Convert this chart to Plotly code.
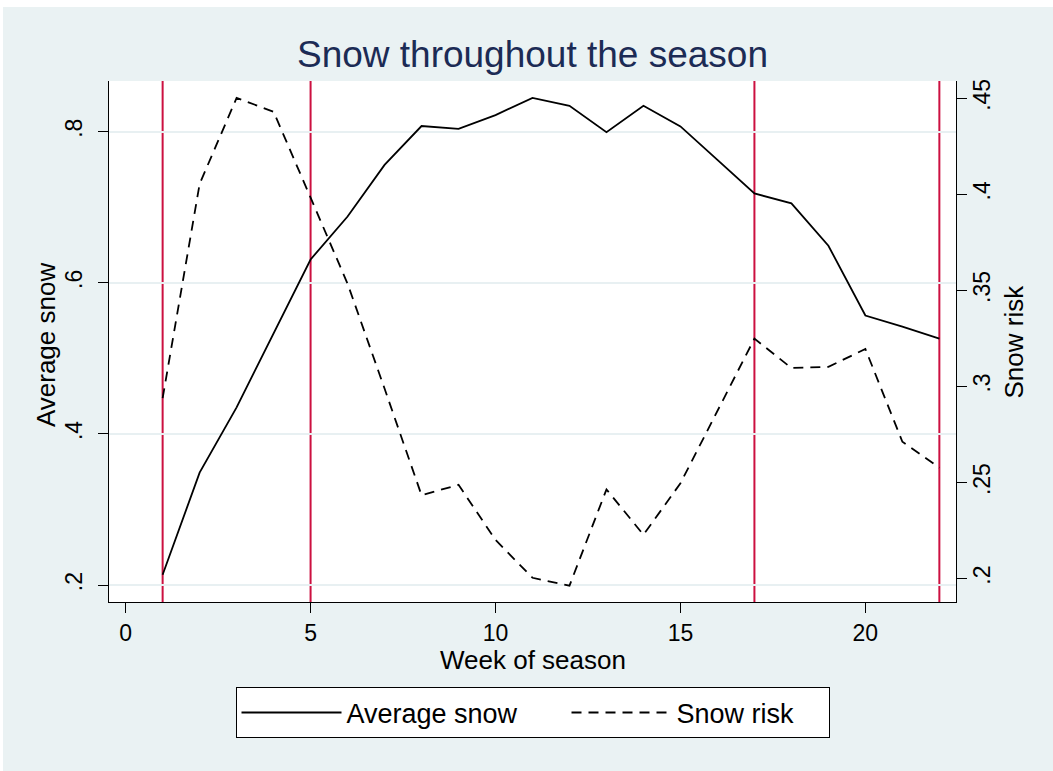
import plotly.graph_objects as go

# ---- data ----
weeks = list(range(1, 23))
average_snow = [0.2135, 0.3487, 0.4351, 0.5330, 0.6308, 0.6877, 0.7560, 0.8074,
                0.8037, 0.8219, 0.8447, 0.8342, 0.7992, 0.8342, 0.8069, 0.7627,
                0.7182, 0.7050, 0.6490, 0.5566, 0.5420, 0.5262]
snow_risk = [0.2939, 0.4054, 0.4502, 0.4430, 0.3983, 0.3535, 0.2989, 0.2434,
             0.2488, 0.2201, 0.2004, 0.1963, 0.2464, 0.2228, 0.2496, 0.2874,
             0.3249, 0.3096, 0.3102, 0.3195, 0.2712, 0.2577]
marked_weeks = [1, 5, 17, 22]

x_ticks = [0, 5, 10, 15, 20]
left_ticks = [0.2, 0.4, 0.6, 0.8]
left_labels = [".2", ".4", ".6", ".8"]
right_ticks = [0.2, 0.25, 0.3, 0.35, 0.4, 0.45]
right_labels = [".2", ".25", ".3", ".35", ".4", ".45"]

title_text = "Snow throughout the season"
x_title = "Week of season"
left_title = "Average snow"
right_title = "Snow risk"

# ---- style ----
FONT = "Liberation Sans, Arial, Helvetica, sans-serif"
BG = "#EAF2F3"
GRID = "#E8F0F2"
RED = "#CC1040"
NAVY = "#1C2B55"

fig = go.Figure()
fig.add_trace(go.Scatter(x=weeks, y=average_snow, mode="lines", name=left_title,
                         line=dict(color="black", width=1.8), yaxis="y",
                         legendwidth=215))
fig.add_trace(go.Scatter(x=weeks, y=snow_risk, mode="lines", name=right_title,
                         line=dict(color="black", width=1.8, dash="10px,7px"), yaxis="y2",
                         legendwidth=147))

for w in marked_weeks:
    fig.add_shape(type="line", xref="x", yref="paper", x0=w, x1=w, y0=0, y1=1,
                  line=dict(color=RED, width=2), layer="between")

axis_font = dict(family=FONT, size=23, color="black")

fig.update_layout(
    width=1050, height=764,
    margin=dict(l=106, r=97, t=74, b=168.5, pad=0),
    paper_bgcolor=BG, plot_bgcolor="white",
    font=dict(family=FONT, color="black"),
    title=dict(text=title_text, x=0.5, xref="paper", xanchor="center",
               y=0.9385, yref="container", yanchor="middle",
               font=dict(family=FONT, size=37, color=NAVY)),
    xaxis=dict(range=[-0.45, 22.45], tickvals=x_ticks, ticks="outside", ticklen=10,
               tickwidth=1.2, tickcolor="black", showline=True, linecolor="black",
               linewidth=1.2, showgrid=False, zeroline=False, tickfont=axis_font),
    yaxis=dict(range=[0.1775, 0.867], tickvals=left_ticks, ticktext=left_labels,
               tickangle=-90, ticks="outside", ticklen=10, tickwidth=1.2,
               tickcolor="black", showline=True, linecolor="black", linewidth=1.2,
               showgrid=True, gridcolor=GRID, gridwidth=2, zeroline=False,
               tickfont=axis_font, ticklabelstandoff=7),
    yaxis2=dict(range=[0.1878, 0.459], tickvals=right_ticks, ticktext=right_labels,
                tickangle=-90, overlaying="y", side="right", ticks="outside",
                ticklen=10, tickwidth=1.2, tickcolor="black", showline=True,
                linecolor="black", linewidth=1.2, showgrid=False, zeroline=False,
                tickfont=axis_font, ticklabelstandoff=-5),
    showlegend=True,
    legend=dict(orientation="h", x=0.5, xanchor="center", y=-0.164, yanchor="top",
                xref="paper", yref="paper",
                bgcolor="white", bordercolor="black", borderwidth=1,
                itemwidth=100, entrywidthmode="pixels",
                font=dict(family=FONT, size=27, color="black")),
    annotations=[
        dict(text=x_title, xref="paper", yref="paper", x=0.5, y=-0.112,
             xanchor="center", yanchor="middle", showarrow=False,
             font=dict(family=FONT, size=26, color="black")),
        dict(text=left_title, xref="paper", yref="paper", x=-0.0744, y=0.495,
             xanchor="center", yanchor="middle", textangle=-90, showarrow=False,
             font=dict(family=FONT, size=26, color="black")),
        dict(text=right_title, xref="paper", yref="paper", x=1.0673, y=0.5,
             xanchor="center", yanchor="middle", textangle=-90, showarrow=False,
             font=dict(family=FONT, size=26, color="black")),
    ],
)

fig.write_html("out.html",
               post_script="document.body.style.margin='7px 0 0 3px';document.body.style.background='white';")
